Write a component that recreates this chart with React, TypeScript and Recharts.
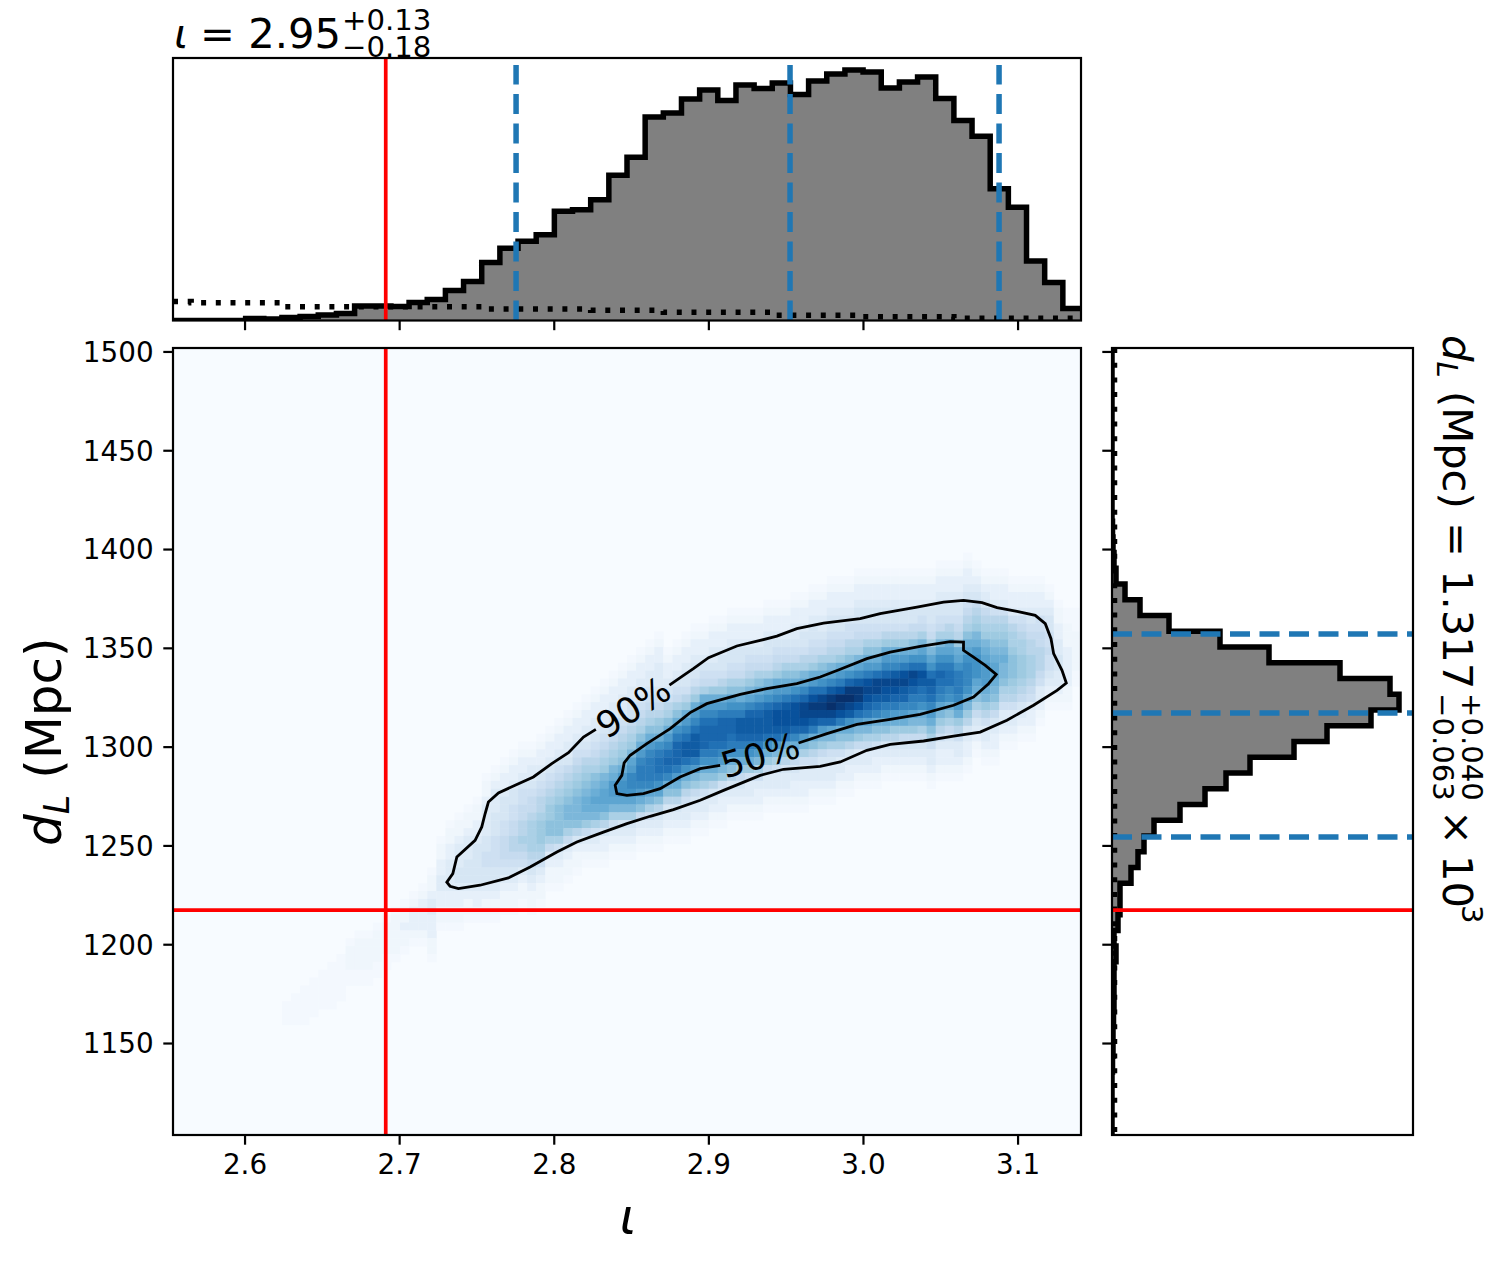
import React from "react";
import { ScatterChart, Scatter, ComposedChart, Area, Line, XAxis, YAxis, ReferenceLine, ReferenceArea } from "recharts";

// ---------- data ----------
const xDomain = [2.5534, 3.1407];
const yDomain = [1103.7, 1502];
const xTicks = [2.6, 2.7, 2.8, 2.9, 3.0, 3.1];
const yTicks = [1150, 1200, 1250, 1300, 1350, 1400, 1450, 1500];
const truthX = 2.691;
const truthY = 1217.5;
const quantX = [2.7753, 2.9525, 3.0877];
const quantY = [1254.5, 1317.3, 1357.2];

// marginal of iota, 50 bins, left to right (relative density)
const histX = [0,0,0,0,2,1.5,3,4,5.5,7,14.5,14.5,14,18,21,30,39,58,72,79,85.5,109,110.5,120.5,145,163,203,207,221,230,219.5,235,231.5,237,225.5,239,246,250,248,232,238,243,221.5,199.5,184,131.5,113,59.5,38,12];
const priorX = [19,17.7,17.7,17.7,17.7,17.7,13.7,13.7,13.7,13.7,13.7,13.7,13.7,13.7,13.7,13.7,13.7,11.5,11.5,11.5,11.5,11.5,11.5,10.3,10.3,10.3,10.3,8.3,8.3,8.3,8.3,8.3,8.3,5.3,5.3,5.3,5.3,5.3,3.7,3.7,3.7,3.7,3.7,2.3,2.3,2.3,2.3,2.3,2.3,2.3];
const histTop = 262;
// marginal of distance, 50 bins, top to bottom (relative density)
const histY = [0,0,0,0,0,0,0,0,0,0,0,0.5,1,2,4,13,28,57,108,157,228,278,287,259,215,182,138,114,93,68,42,32,26,19,8,8,6,2,4,2,2,2,1.5,1,1,0.5,0,0,0,0];
const priorY = [2.5,2.5,2.5,2.5,2.5,2.5,2.5,2.5,2.5,2.5,2.5,2.5,2.5,2.5,2.5,2.5,2.5,2.5,2.5,2.5,2.5,2.5,2.5,2.5,2.5,2.5,2.5,2.5,2.5,2.5,2.5,2.5,2.5,2.5,2.5,2.5,2.5,2.5,2.5,2.5,2.5,2.5,2.5,2.5,2.5,2.5,2.5,2.5,2.5,2.5];
const histYTop = 301;

// 2D histogram: 100x100 bins, one entry per column. Level chars: '.'=half, 0-9a-o = level of 24.
const heatFirstColumn = 12;
const heatFirstRow = [83,82,81,80,79,78,77,75,74,74,73,72,71,70,69,68,66,62,60,59,58,57,54,53,52,51,50,50,49,48,47,46,45,44,43,42,41,40,39,38,37,36,38,37,36,35,35,34,34,33,33,33,33,32,32,32,31,31,30,30,29,29,29,28,28,28,28,28,28,28,28,28,27,27,27,26,27,28,28,28,29,29,29,29,30,32,33,33,34];
const heatLevels = [
"...","....",".....",".....",".....","......","......",".111..",".1111..",".1111..",".1111..",".1111..",".11111.",".11211.",".12221.",".122221.",".1123322211.",
".1122332211.",".112233332211.",".1123334432211.",".1123334443211.",".11223444443221.",".11233334455443211.",".123334445555443211.",".122344455666543211.",".1223445566776543211.",".1223455667787653211.",".12334566788887643211.",".12234567789998753211.",".12234567899aa863211.",".1223456789aaaa853211.",".1223346789abba863211.",".1223456789abbba74211.",".1223345789abccb96321.",".1223345678abcdcb85321.",".12233456789bcddca74221.",".12233456789bceedb85321.",".12233456789aceffdb84321.",".12233456789bdeggfdb84321.",".1223345678aceghhgeca6321.",".1223345678aceghhhgdb85321.",".12233345679acfhiihfda74321.",
".12234578acegijigca74321.",".12234568acfhjjjheca74321.",".122344579cegikkifca753321.",".122344579cegikkkheb964321.",".12234568cegijjjhfca853321.",".122334569cegijjihfca74321.",".122344579cehjjjigeb953221.",".122344568adfhjjihfca74321.",".122344568acfhkkjhfc964321.",".122345679bdgjkkjhfc953321.",".12234568acehjkkjheb853221.",".122344568bdfikkkifc963321.",".122345679cegjllkieb853321.",".12234568acehkllkhca743321.",".122334568acfillljgc9643221.",".122344578bdgjmmljeb8533221.",".1223445679ceilnmkhca753321.",".1223345 68acfimnmjeb9643321.".replace(" ",""),".1223445678bdgknomjdb8543321.",".1223445679cehlonlhca853321.",".122345578acfjnomkfca743221.",".1223445678bdgknnlieb963321.",".122344568acehlmljhdb863321.",".122344568aceimmkigca853221.",".122344579cegjmlkhfca74321.",".122344579cegkmljhec974321.",".122344579cehlmkjgec964321.",".12234467acfimljhgdb964321.",".12234568bdfilkihfcb864321.",".122344568bdfikjigeca853321.",".122344568bdfhjihgdb9753221.",".122344578cdfhiigfca8643221.",".1223445679cdfhhhgec9753321.",".122345678acdfgggfdb9743221.",".12346789bcefffdca864321.",".12346789bcdeeecb9753321.",".12235789abcddcba8643221.",".12235789abcbba8753321.",".122357889aaa98753321.",".1223567889998764321.",".1223456778887653221.",".12235566777653321.",".12344556554321.",".112233443321.","..1112222211.","...11111..",
];

// contours as [iota, distance]
const contour90: [number, number][] = [[2.8269,1309],[2.8189,1305.1],[2.8092,1297.2],[2.7984,1291.7],[2.7865,1284.9],[2.7747,1280.7],[2.7639,1276.8],[2.7574,1272.2],[2.7553,1266.4],[2.7531,1259.6],[2.7488,1252.8],[2.737,1244.4],[2.7344,1236],[2.7305,1231.7],[2.7326,1229.6],[2.738,1228.4],[2.752,1230.1],[2.7703,1233.8],[2.7844,1239.3],[2.8017,1246.9],[2.8146,1252],[2.8318,1257],[2.847,1261.3],[2.862,1265],[2.8771,1268.4],[2.8944,1273.1],[2.9095,1278.1],[2.9332,1285.7],[2.9483,1288.8],[2.972,1290.3],[2.985,1292.5],[3.0022,1298.4],[3.0173,1301.4],[3.0389,1303.1],[3.0583,1305.6],[3.0755,1307.6],[3.0928,1313.6],[3.11,1321.2],[3.1252,1328.7],[3.1312,1332.4],[3.1284,1338.9],[3.123,1347.3],[3.1213,1354.9],[3.1176,1362.5],[3.1111,1366.7],[3.0993,1368.7],[3.0864,1370.6],[3.0767,1373.1],[3.0647,1374.3],[3.0518,1373.4],[3.0346,1370.9],[3.0108,1367.6],[2.9979,1365],[2.9742,1362.8],[2.9569,1360],[2.944,1356.2],[2.9332,1354],[2.9181,1351.2],[2.8998,1345.3],[2.89,1339.7],[2.8836,1336.3],[2.8745,1331.4]];
const contour50: [number, number][] = [[2.958,1302.1],[2.9764,1306.8],[2.9958,1311.5],[3.0173,1314.1],[3.0367,1316.6],[3.0583,1321.2],[3.0712,1325.4],[3.0809,1332.1],[3.0859,1336.8],[3.0788,1341.4],[3.0712,1345.6],[3.0647,1349],[3.0647,1353.2],[3.0561,1353.4],[3.0367,1351],[3.0173,1348.1],[3.0022,1344.8],[2.985,1339.4],[2.972,1335.5],[2.9569,1332.1],[2.9375,1329.6],[2.9203,1326.7],[2.8987,1322],[2.8879,1317.5],[2.875,1309.4],[2.8599,1301.8],[2.8491,1295.9],[2.8452,1292],[2.8437,1285.7],[2.8394,1280.7],[2.8405,1276.5],[2.847,1275.6],[2.8577,1276.5],[2.8685,1279],[2.8814,1284.9],[2.8944,1289.1],[2.9073,1290.8]];

// ---------- helpers ----------
const FONT = "DejaVu Sans";
const W = 1502, H = 1263;
const main = { l: 173, r: 1081, t: 348, b: 1135 };
const top = { l: 173, r: 1081, t: 58, b: 320.5 };
const side = { l: 1112, r: 1413, t: 348, b: 1135 };
const BLUE = "#1f77b4";
const RED = "#ff0000";
const LW = 5.5;
const DASH = "20 9.5";
const DOT = "5 9.7";
const AXH = 30, AXW = 60;

const stops = [[247,251,255],[222,235,247],[198,219,239],[158,202,225],[107,174,214],[66,146,198],[33,113,181],[8,81,156],[8,48,107]];
function blues(t: number) {
  const p = Math.min(t, 0.9999) * 8, i = Math.floor(p), f = p - i;
  const c = stops[i].map((v, k) => Math.round(v + (stops[i + 1][k] - v) * f));
  return `rgb(${c[0]},${c[1]},${c[2]})`;
}
const dx = (xDomain[1] - xDomain[0]) / 100;
const dy = (yDomain[1] - yDomain[0]) / 100;
const heatCells = heatLevels.flatMap((col, i) =>
  col.split("").map((ch, n) => ({
    x: xDomain[0] + (heatFirstColumn + i + 0.5) * dx,
    y: yDomain[1] - (heatFirstRow[i] + n + 0.5) * dy,
    level: ch === "." ? 0.5 : parseInt(ch, 36),
  }))
);
const cellW = (main.r - main.l) / 100;
const cellH = (main.b - main.t) / 100;
const HeatCell = (p: any) => (
  <rect x={p.cx - cellW / 2} y={p.cy - cellH / 2} width={cellW + 0.4} height={cellH + 0.4} fill={blues(p.payload.level / 24)} />
);
const NoDot = () => <g />;

const stepX = (vals: number[]) => {
  const w = (xDomain[1] - xDomain[0]) / vals.length;
  return vals.flatMap((v, i) => [{ x: xDomain[0] + i * w, v }, { x: xDomain[0] + (i + 1) * w, v }]);
};
const stepY = (vals: number[]) => {
  const w = (yDomain[1] - yDomain[0]) / vals.length;
  return vals.flatMap((v, i) => [{ y: yDomain[1] - i * w, v }, { y: yDomain[1] - (i + 1) * w, v }]);
};
const margin = (b: { l: number; r: number; t: number; b: number }, xAx: boolean, yAx: boolean) => ({
  left: b.l - (yAx ? AXW : 0),
  right: W - b.r,
  top: b.t,
  bottom: H - b.b - (xAx ? AXH : 0),
});
const tickLine = { stroke: "#000", strokeWidth: 2.2 };
const tickFont = { fontSize: 27.8, fontFamily: FONT, fill: "#000" };
const abs: React.CSSProperties = { position: "absolute", left: 0, top: 0 };
const blank = () => "";

export default function App() {
  const histXPts = stepX(histX), priorXPts = stepX(priorX);
  const histYPts = stepY(histY), priorYPts = stepY(priorY);
  const sub = { fontSize: 29.17 };
  return (
    <div style={{ position: "absolute", left: 0, top: 0, width: W, height: H, background: "#fff", overflow: "hidden" }}>
      {/* top marginal */}
      <div style={abs}>
        <ComposedChart width={W} height={H} margin={margin(top, true, false)} data={histXPts}>
          <XAxis type="number" dataKey="x" domain={xDomain} allowDataOverflow ticks={xTicks} interval={0} height={AXH} axisLine={false} tickLine={tickLine} tickSize={9.7} tickFormatter={blank} />
          <YAxis type="number" domain={[0, histTop]} allowDataOverflow hide />
          <Area dataKey="v" type="linear" stroke="none" fill="#808080" fillOpacity={1} isAnimationActive={false} dot={false} activeDot={false} />
          <Line dataKey="v" type="linear" stroke="#000" strokeWidth={LW} strokeLinejoin="miter" isAnimationActive={false} dot={false} activeDot={false} />
          <Line data={priorXPts} dataKey="v" type="linear" stroke="#000" strokeWidth={LW} strokeDasharray={DOT} isAnimationActive={false} dot={false} activeDot={false} />
          {quantX.map((q) => (
            <ReferenceLine key={q} segment={[{ x: q, y: 0 }, { x: q, y: 255 }]} stroke={BLUE} strokeWidth={LW} strokeDasharray={DASH} />
          ))}
          <ReferenceLine x={truthX} stroke={RED} strokeWidth={3.7} />
        </ComposedChart>
      </div>
      {/* main panel */}
      <div style={abs}>
        <ScatterChart width={W} height={H} margin={margin(main, true, true)}>
          <XAxis type="number" dataKey="x" domain={xDomain} allowDataOverflow ticks={xTicks} interval={0} height={AXH} axisLine={false} tickLine={tickLine} tickSize={9.7} tickMargin={9.7} tick={tickFont} tickFormatter={(v: number) => v.toFixed(1)} />
          <YAxis type="number" dataKey="y" domain={yDomain} allowDataOverflow ticks={yTicks} interval={0} width={AXW} axisLine={false} tickLine={tickLine} tickSize={9.7} tickMargin={9.7} tick={tickFont} />
          <ReferenceArea x1={xDomain[0]} x2={xDomain[1]} y1={yDomain[0]} y2={yDomain[1]} fill="#f7fbff" fillOpacity={1} stroke="none" />
          <Scatter data={heatCells} shape={HeatCell} isAnimationActive={false} />
          <Scatter data={contour90.map(([x, y]) => ({ x, y }))} line={{ stroke: "#000", strokeWidth: 2.8 }} lineType="joint" shape={NoDot} isAnimationActive={false} />
          <Scatter data={contour50.map(([x, y]) => ({ x, y }))} line={{ stroke: "#000", strokeWidth: 2.8 }} lineType="joint" shape={NoDot} isAnimationActive={false} />
        </ScatterChart>
      </div>
      {/* truth lines above the image */}
      <div style={abs}>
        <ScatterChart width={W} height={H} margin={margin(main, false, false)}>
          <XAxis type="number" dataKey="x" domain={xDomain} allowDataOverflow hide />
          <YAxis type="number" dataKey="y" domain={yDomain} allowDataOverflow hide />
          <Scatter data={[]} shape={NoDot} isAnimationActive={false} />
          <ReferenceLine x={truthX} stroke={RED} strokeWidth={3.7} />
          <ReferenceLine y={truthY} stroke={RED} strokeWidth={3.7} />
        </ScatterChart>
      </div>
      {/* side marginal */}
      <div style={abs}>
        <ComposedChart width={W} height={H} margin={margin(side, false, true)} layout="vertical" data={histYPts}>
          <XAxis type="number" domain={[0, histYTop]} allowDataOverflow hide />
          <YAxis type="number" dataKey="y" reversed domain={yDomain} allowDataOverflow ticks={yTicks} interval={0} width={AXW} axisLine={false} tickLine={tickLine} tickSize={9.7} tickFormatter={blank} />
          <Area dataKey="v" type="linear" stroke="none" fill="#808080" fillOpacity={1} isAnimationActive={false} dot={false} activeDot={false} />
          <Line dataKey="v" type="linear" stroke="#000" strokeWidth={LW} strokeLinejoin="miter" isAnimationActive={false} dot={false} activeDot={false} />
          <Line data={priorYPts} dataKey="v" type="linear" stroke="#000" strokeWidth={LW} strokeDasharray={DOT} isAnimationActive={false} dot={false} activeDot={false} />
          {quantY.map((q) => (
            <ReferenceLine key={q} segment={[{ x: 0, y: q }, { x: histYTop, y: q }]} stroke={BLUE} strokeWidth={LW} strokeDasharray={DASH} />
          ))}
          <ReferenceLine y={truthY} stroke={RED} strokeWidth={3.7} />
        </ComposedChart>
      </div>
      {/* frames and text */}
      <svg width={W} height={H} style={{ ...abs, pointerEvents: "none" }} fontFamily={FONT} fill="#000">
        {[top, main, side].map((b, i) => (
          <rect key={i} x={b.l} y={b.t} width={b.r - b.l} height={b.b - b.t} fill="none" stroke="#000" strokeWidth={2.2} />
        ))}
        {/* title */}
        <text x={174} y={47.5} fontSize={41.67} fontStyle="italic">ι</text>
        <text x={200} y={47.5} fontSize={41.67}>= 2.95</text>
        <text x={342} y={30} {...sub}>+0.13</text>
        <text x={342} y={57} {...sub}>−0.18</text>
        {/* axis labels */}
        <text x={628} y={1234} fontSize={50} fontStyle="italic" textAnchor="middle">ι</text>
        <text transform="translate(61,846) rotate(-90)" fontSize={50} xmlSpace="preserve">
          <tspan fontStyle="italic">d</tspan>
          <tspan fontStyle="italic" fontSize={35} dy={7.5}>L</tspan>
          <tspan dy={-7.5}> (Mpc)</tspan>
        </text>
        {/* right label */}
        <g transform="translate(1443,335) rotate(90)">
          <text x={0} y={0} fontSize={41.67} xmlSpace="preserve">
            <tspan fontStyle="italic">d</tspan>
            <tspan fontStyle="italic" fontSize={29.17} dy={6}>L</tspan>
            <tspan dy={-6}> (Mpc) = 1.317</tspan>
          </text>
          <text x={358} y={-19} {...sub}>+0.040</text>
          <text x={358} y={10} {...sub}>−0.063</text>
          <text x={475} y={0} fontSize={41.67}>×</text>
          <text x={520} y={0} fontSize={41.67}>10</text>
          <text x={570} y={-19} {...sub}>3</text>
        </g>
        {/* contour labels */}
        <text transform="translate(633,707) rotate(-33)" fontSize={36} textAnchor="middle" dy={13}>90%</text>
        <text transform="translate(760,755) rotate(-16)" fontSize={36} textAnchor="middle" dy={13}>50%</text>
      </svg>
    </div>
  );
}
